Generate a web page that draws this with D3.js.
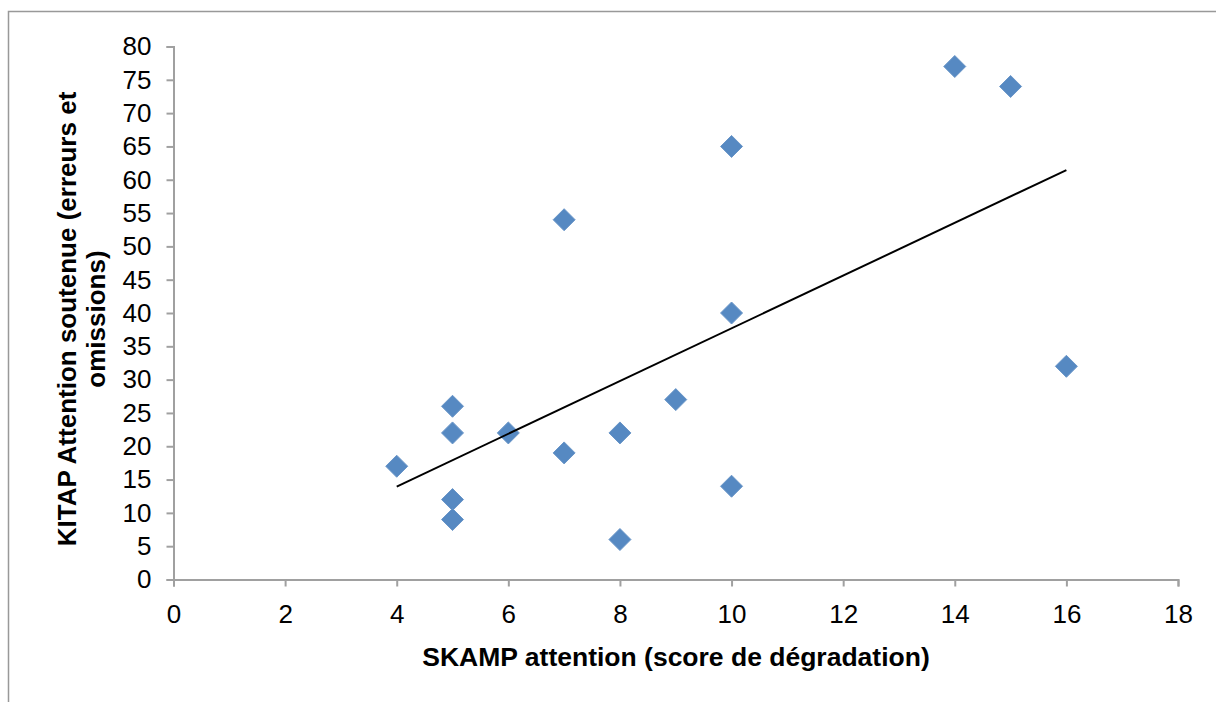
<!DOCTYPE html>
<html>
<head>
<meta charset="utf-8">
<script src="https://cdn.jsdelivr.net/npm/d3@7/dist/d3.min.js"></script>
<style>
  html, body { margin: 0; padding: 0; background: #fff; }
  svg { display: block; }
  text { font-family: "Liberation Sans", Arial, sans-serif; }
</style>
</head>
<body>
<svg id="chart" width="1216" height="702"></svg>
<script>
// Data
const skampScores = [4, 5, 5, 5, 5, 6, 7, 7, 8, 8, 9, 10, 10, 10, 14, 15, 16];
const kitapScores = [17, 26, 22, 12, 9, 22, 54, 19, 22, 6, 27, 65, 40, 14, 77, 74, 32];
const xTicks = [0, 2, 4, 6, 8, 10, 12, 14, 16, 18];
const yTicks = [0, 5, 10, 15, 20, 25, 30, 35, 40, 45, 50, 55, 60, 65, 70, 75, 80];
const xTitle = "SKAMP attention (score de dégradation)";
const yTitleLines = ["KITAP Attention soutenue (erreurs et", "omissions)"];

(function () {
const svg = d3.select("#chart");
const W = 1216, H = 702;

// outer chart frame (extends beyond right/bottom edges)
svg.append("rect")
  .attr("x", 8.5).attr("y", 11.5)
  .attr("width", W + 20).attr("height", H + 20)
  .attr("fill", "none").attr("stroke", "#999").attr("stroke-width", 1.5);

const pLeft = 173.5, pRight = 1178, pTop = 46.5, pBottom = 579.5;
const x = d3.scaleLinear().domain([0, 18]).range([pLeft, pRight]);
const y = d3.scaleLinear().domain([0, 80]).range([pBottom, pTop]);

const axisColor = "#a0a0a0";
const tickFont = "26px";

// X axis
const gx = svg.append("g").attr("transform", `translate(0,${pBottom})`)
  .call(d3.axisBottom(x).tickValues(xTicks).tickSize(7).tickPadding(18).tickFormat(d3.format("d")));
gx.select(".domain").attr("stroke", axisColor).attr("stroke-width", 2);
gx.selectAll(".tick line").attr("stroke", axisColor).attr("stroke-width", 2);
gx.selectAll(".tick text").attr("fill", "#000").style("font-size", tickFont)
  .style("font-family", "'Liberation Sans', Arial, sans-serif");

// Y axis
const gy = svg.append("g").attr("transform", `translate(${pLeft},0)`)
  .call(d3.axisLeft(y).tickValues(yTicks).tickSize(7).tickPadding(15).tickFormat(d3.format("d")));
gy.select(".domain").attr("stroke", axisColor).attr("stroke-width", 2);
gy.selectAll(".tick line").attr("stroke", axisColor).attr("stroke-width", 2);
gy.selectAll(".tick text").attr("fill", "#000").style("font-size", tickFont)
  .style("font-family", "'Liberation Sans', Arial, sans-serif");

// Points
const pts = skampScores.map((v, i) => ({ x: v, y: kitapScores[i] }));

// Linear trendline (least squares)
const mx = d3.mean(pts, d => d.x), my = d3.mean(pts, d => d.y);
const sxy = d3.sum(pts, d => (d.x - mx) * (d.y - my));
const sxx = d3.sum(pts, d => (d.x - mx) * (d.x - mx));
const slope = sxy / sxx, intercept = my - slope * mx;
const [xmin, xmax] = d3.extent(skampScores);

const r = 11;
svg.append("g").selectAll("path.pt").data(pts).join("path")
  .attr("class", "pt")
  .attr("d", `M0,${-r}L${r},0L0,${r}L${-r},0Z`)
  .attr("transform", d => `translate(${x(d.x)},${y(d.y)})`)
  .attr("fill", "#5689c2")
  .attr("stroke", "#6a96c8").attr("stroke-width", 1).attr("stroke-linejoin", "round");

svg.append("line")
  .attr("x1", x(xmin)).attr("y1", y(slope * xmin + intercept))
  .attr("x2", x(xmax)).attr("y2", y(slope * xmax + intercept))
  .attr("stroke", "#000").attr("stroke-width", 2);

// Axis titles
svg.append("text")
  .attr("x", 676).attr("y", 666)
  .attr("text-anchor", "middle")
  .style("font-size", "26.5px").style("font-weight", "bold")
  .text(xTitle);

const yt = svg.append("text")
  .attr("transform", `translate(76,319) rotate(-90)`)
  .attr("text-anchor", "middle")
  .style("font-size", "26px").style("font-weight", "bold");
yTitleLines.forEach((line, i) => {
  yt.append("tspan").attr("x", 0).attr("dy", i === 0 ? 0 : 29).text(line);
});
})();
</script>
</body>
</html>
